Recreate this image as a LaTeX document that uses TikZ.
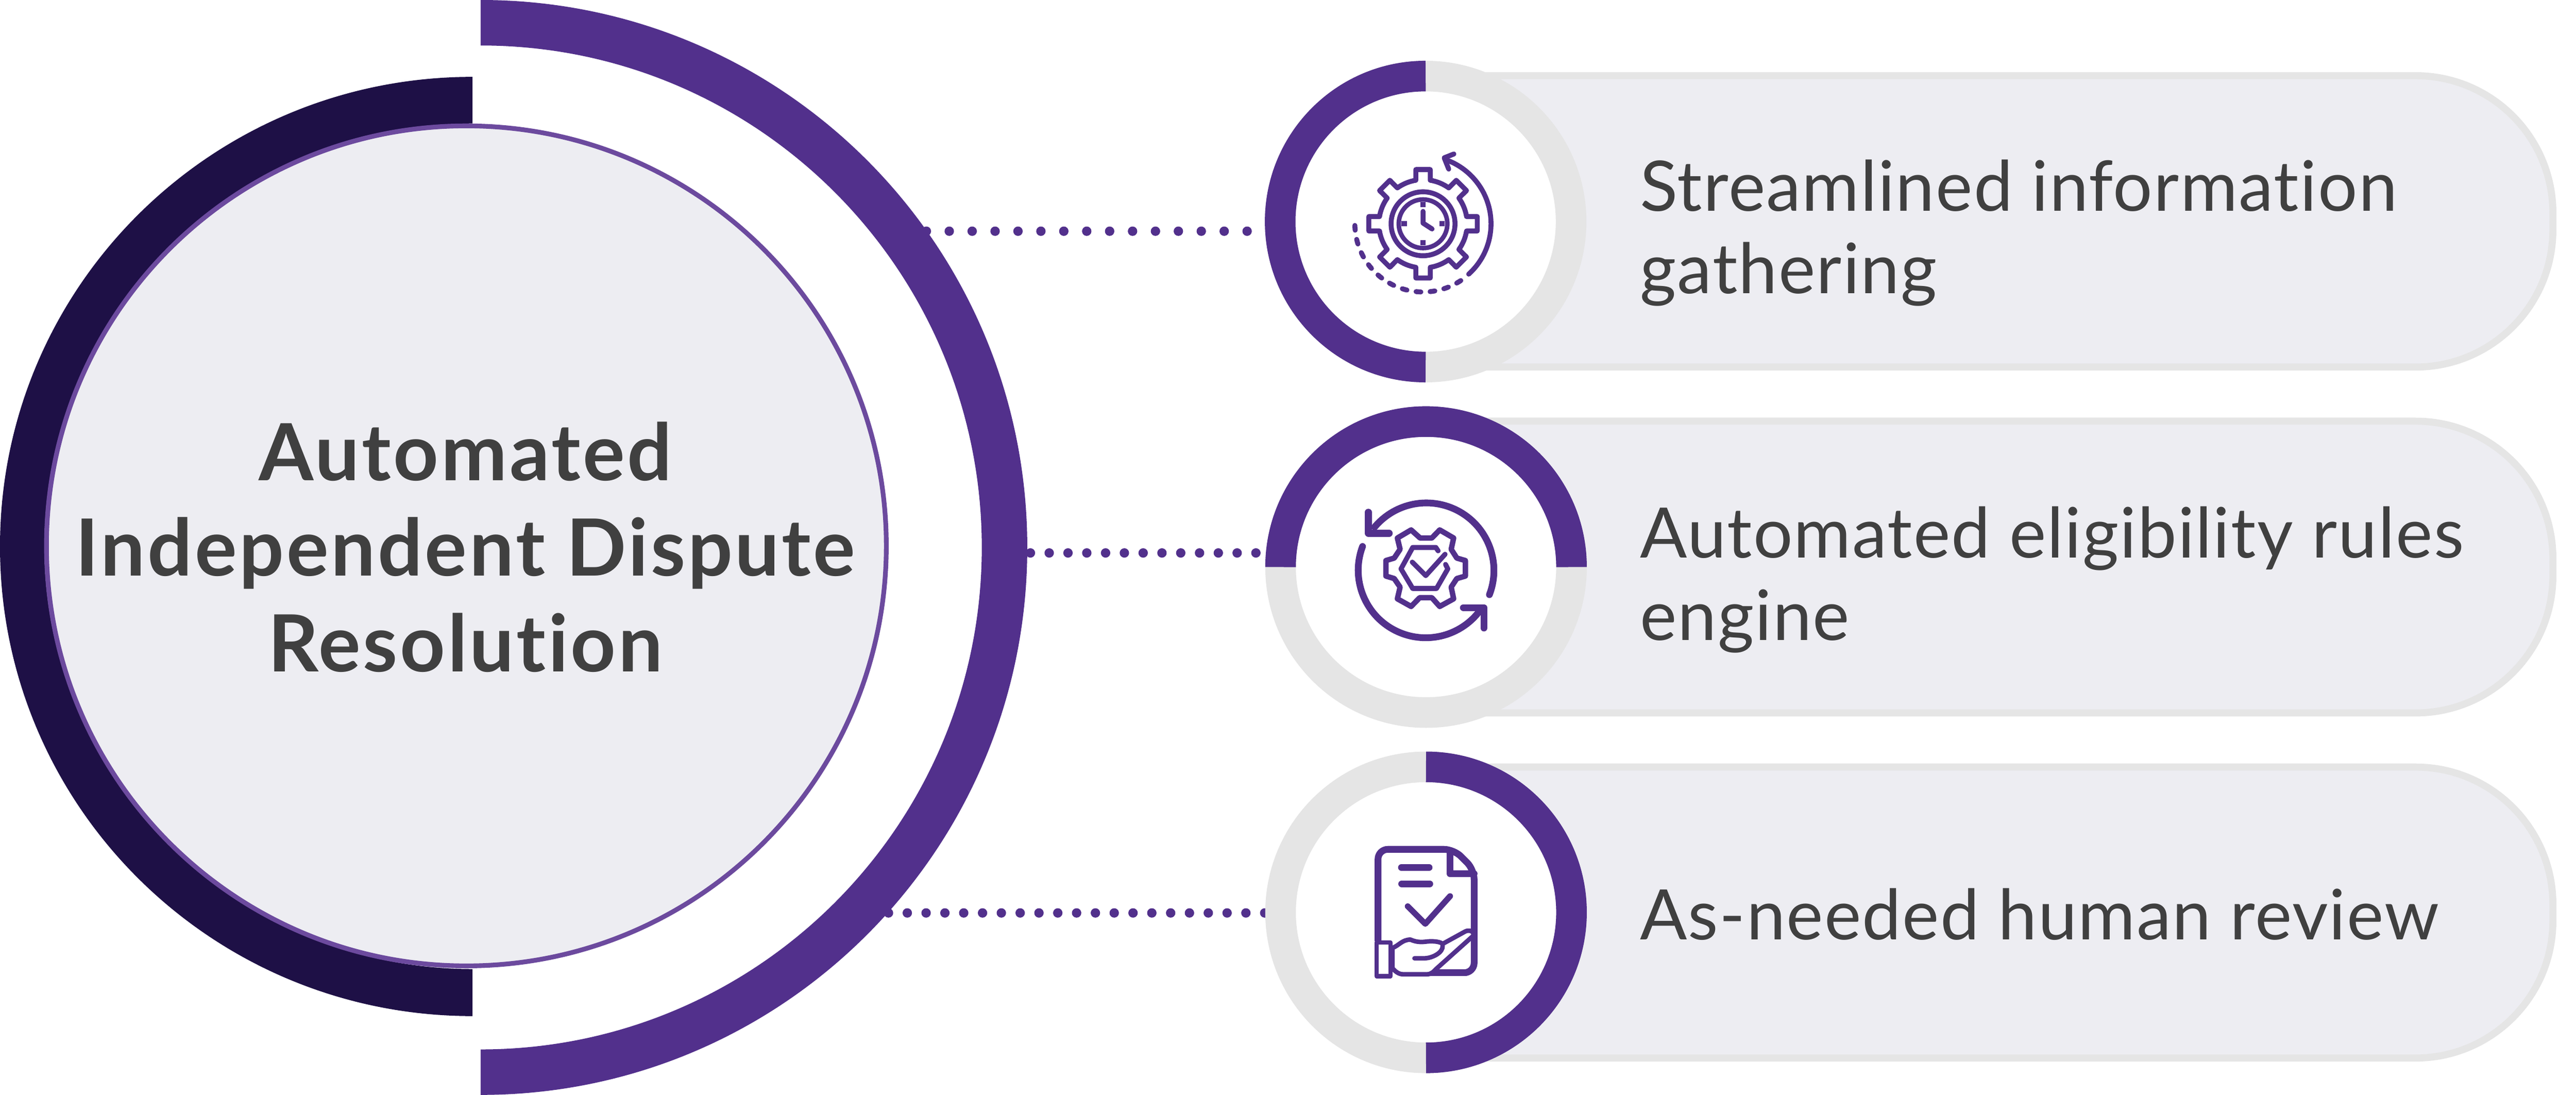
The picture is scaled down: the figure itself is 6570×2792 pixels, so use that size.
\documentclass[tikz,border=0pt]{standalone}
\usepackage{fontspec}
\setmainfont{Lato}
\newfontfamily\lightfont{Lato}[LetterSpace=1.6,Ligatures=NoCommon]
\newfontfamily\titlefont{Lato Bold}[LetterSpace=3,Ligatures=NoCommon]
\definecolor{purp}{RGB}{82,48,140}
\definecolor{darkp}{RGB}{30,16,70}
\definecolor{ringp}{RGB}{108,74,158}
\definecolor{panel}{RGB}{237,237,242}
\definecolor{edge}{RGB}{229,229,229}
\definecolor{ink}{RGB}{64,64,64}
\tikzset{
  pill/.style={draw=edge,fill=panel,line width=.18cm},
  graytrack/.style={draw=edge,fill=white,line width=.78cm},
  purptrack/.style={draw=purp,line width=.78cm},
  dotline/.style={draw=purp,line width=.24cm,line cap=round},
  label/.style={text=ink,anchor=west,align=left,inner sep=0pt,font=\fontsize{50.5pt}{59.7pt}\selectfont\lightfont},
  titlelabel/.style={text=ink,align=center,inner sep=0pt,font=\fontsize{57.2pt}{69.4pt}\selectfont\titlefont},
  iconline/.style={draw=purp,line width=.126cm,line cap=round,line join=round},
  iconframe/.style={shift={#1},x=0.0057405cm,y=-0.0057405cm},
}
\begin{document}
\begin{tikzpicture}[x=0.01cm,y=-0.01cm]
\useasboundingbox (0,0) rectangle (6570,2792);
\coordinate (c1) at (3636,565);
\coordinate (c2) at (3637,1446);
\coordinate (c3) at (3637,2326.5);
% dotted connectors
\coordinate (d1a) at (2362.6,589.6); \coordinate (d1b) at (3240,589.6);
\coordinate (d2a) at (2628,1410);    \coordinate (d2b) at (3205,1410);
\coordinate (d3a) at (2266,2328);    \coordinate (d3b) at (3226,2328);
\draw[dotline,dash pattern=on 0pt off .584cm] (d1a) -- (d1b);
\draw[dotline,dash pattern=on 0pt off .479cm] (d2a) -- (d2b);
\draw[dotline,dash pattern=on 0pt off .4795cm] (d3a) -- (d3b);
% big arcs
\fill[purp] (1226,0) arc[start angle=-90,end angle=90,x radius=1394,y radius=1396]
  -- (1226,2676) arc[start angle=90,end angle=-90,x radius=1278,y radius=1280] -- cycle;
\fill[darkp] (1205,196) arc[start angle=-90,end angle=-270,x radius=1205,y radius=1197.5]
  -- (1205,2471) arc[start angle=-270,end angle=-90,x radius=1092,y radius=1078] -- cycle;
\draw[draw=ringp,fill=panel,line width=.12cm] (1189.5,1392) circle[radius=1071];
\node[titlelabel] (title) at (1187,1395) {Automated\\Independent Dispute\\Resolution};
% pills
\draw[pill] (3640,193) [rounded corners=3.5cm] -- (6511,193) -- (6511,936) [sharp corners] -- (3640,936) -- cycle;
\draw[pill] (3640,1074) [rounded corners=3.5cm] -- (6511,1074) -- (6511,1818) [sharp corners] -- (3640,1818) -- cycle;
\draw[pill] (3640,1956) [rounded corners=3.5cm] -- (6511,1956) -- (6511,2698) [sharp corners] -- (3640,2698) -- cycle;
% rings
\draw[graytrack] (c1) circle[radius=371];
\draw[graytrack] (c2) circle[radius=371];
\draw[graytrack] (c3) circle[radius=371];
\draw[purptrack] (c1) ++(90:371) arc[start angle=90,end angle=270,radius=371];
\draw[purptrack] (c2) ++(180:371) arc[start angle=180,end angle=360,radius=371];
\draw[purptrack] (c3) ++(-90:371) arc[start angle=-90,end angle=90,radius=371];
% labels
\node[label] (t1) at (4182,594) {Streamlined information\\gathering};
\node[label] (t2) at (4182,1478) {Automated eligibility rules\\engine};
\node[label] (t3) at (4182,2331) {As-needed human review};
% icon 1
\begin{scope}[iconframe={(3200,120)}]
  \begin{scope}[shift={(748,785)}]
    \draw[iconline] (-99.4:196)
      \foreach \a in {-90,-45,...,225}{
        -- (\a-9.4:196) -- (\a-7.6:243) -- (\a+7.6:243) -- (\a+9.4:196)
        arc[start angle=\a+9.4,delta angle=26.2,radius=196]
      } -- cycle;
    \draw[iconline] (0,0) circle[radius=142];
    \draw[iconline,line width=.115cm] (0,0) circle[radius=108];
    \fill[purp] (-11,-96) rectangle (11,-73);
    \fill[purp] (-11,96) rectangle (11,73);
    \fill[purp] (-96,-11) rectangle (-72,11);
    \fill[purp] (96,-11) rectangle (72,11);
    \draw[iconline] (0,-55) -- (0,-3) -- (40,23);
    \draw[iconline] (47.8:302) arc[start angle=47.8,end angle=-71.2,radius=302];
    \draw[iconline] (137,-310) -- (94,-293) -- (114,-243);
    \foreach \k in {0,...,10}
      \draw[iconline] (176.6-\k*11.82+2:303) arc[start angle=176.6-\k*11.82+2,delta angle=-4,radius=303];
  \end{scope}
\end{scope}
% icon 2
\begin{scope}[iconframe={(3200,1000)}]
  \begin{scope}[shift={(760,791)}]
    \tikzset{arr/.style={iconline,line width=.172cm}}
    \draw[arr] (21:303) arc[start angle=21,end angle=-140,radius=300];
    \draw[arr] (200.6:300) arc[start angle=200.6,end angle=39,radius=300];
  \end{scope}
  \tikzset{arr/.style={iconline,line width=.172cm}}
  \draw[arr] (505,533) -- (505,627) -- (598,627);
  \draw[arr] (927,957) -- (1018,957) -- (1018,1048);
  \draw[iconline,line width=.138cm] (735,648) -- (695,612) -- (634,648) -- (646,698) -- (620,737) -- (583,748)
    -- (583,817) -- (620,828) -- (646,866) -- (634,918) -- (695,952) -- (733,913) -- (787,913)
    -- (822,952) -- (884,918) -- (873,866) -- (898,828) -- (936,817) -- (936,748) -- (898,737)
    -- (873,698) -- (884,648) -- (822,612) -- (787,648) -- cycle;
  \draw[iconline] (815,705) -- (805,690) -- (702,690) -- (650,785) -- (702,872) -- (808,872) -- (858,785) -- (848,765);
  \draw[iconline] (700,755) -- (760,815) -- (846,720);
\end{scope}
% icon 3
\begin{scope}[iconframe={(3200,1892)}]
  \tikzset{docline/.style={iconline,line width=.172cm}}
  \draw[docline,line cap=butt,rounded corners=.25cm] (548,885) -- (548,477) -- (885,477) -- (975,567) -- (975,1025) -- (780,1025);
  \draw[docline,line join=round] (867,490) -- (867,585) -- (975,585);
  \draw[docline] (652,558) -- (775,558);
  \draw[docline] (653,630) -- (778,630);
  \draw[iconline,line width=.15cm] (680,730) -- (758,808) -- (868,685);
  \draw[iconline,line width=.115cm,fill=white] (612,915) .. controls (640,905) and (655,878) .. (692,878)
    .. controls (720,890) and (740,890) .. (770,886) .. controls (800,884) and (825,888) .. (835,897)
    -- (935,842) .. controls (950,834) and (975,838) .. (972,860) -- (810,1005) .. controls (795,1020) and (785,1032) .. (765,1032)
    -- (660,1032) .. controls (640,1032) and (625,1020) .. (612,1005) -- cycle;
  \draw[iconline,line width=.115cm] (835,905) .. controls (838,935) and (790,960) .. (755,961) -- (710,961);
  \draw[iconline,line width=.11cm,fill=white] (542,890) rectangle (603,1041);
\end{scope}
\end{tikzpicture}
\end{document}
